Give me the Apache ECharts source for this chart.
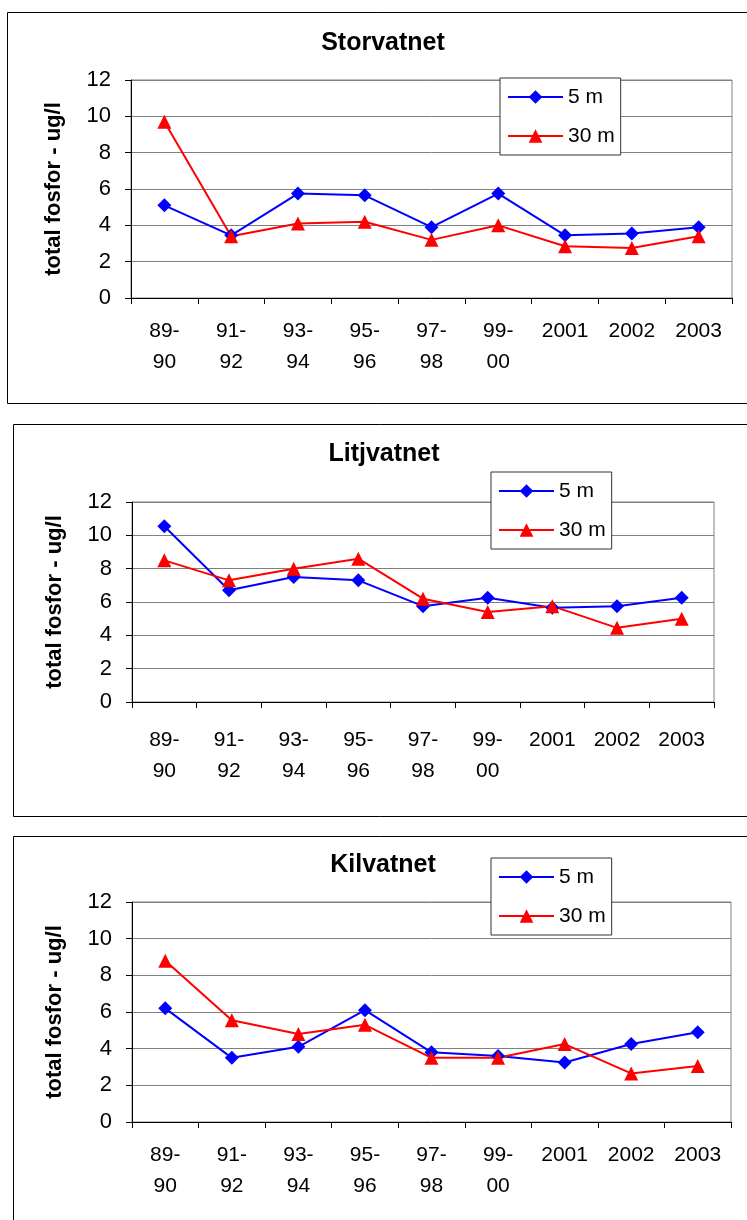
<!DOCTYPE html>
<html>
<head>
<meta charset="utf-8">
<script src="https://cdn.jsdelivr.net/npm/echarts@6/dist/echarts.min.js"></script>
<style>
  html, body { margin: 0; padding: 0; background: #fff; }
  #chart { width: 747px; height: 1220px; }
</style>
</head>
<body>
<div id="chart"></div>
<script>
// periods on the x axis
const categories = ['89-\n90', '91-\n92', '93-\n94', '95-\n96', '97-\n98', '99-\n00', '2001', '2002', '2003'];
const depthNames = ['5 m', '30 m'];
const lakeNames = ['Storvatnet', 'Litjvatnet', 'Kilvatnet'];
const yTitle = 'total fosfor - ug/l';

// total fosfor (ug/l) per lake and depth
const storvatnet5 = [5.1, 3.45, 5.75, 5.65, 3.9, 5.75, 3.45, 3.55, 3.9];
const storvatnet30 = [9.7, 3.4, 4.1, 4.2, 3.2, 4.0, 2.85, 2.75, 3.4];
const litjvatnet5 = [10.55, 6.7, 7.5, 7.3, 5.75, 6.25, 5.65, 5.75, 6.25];
const litjvatnet30 = [8.5, 7.3, 8.0, 8.6, 6.2, 5.4, 5.75, 4.45, 5.0];
const kilvatnet5 = [6.2, 3.5, 4.1, 6.1, 3.8, 3.6, 3.25, 4.25, 4.9];
const kilvatnet30 = [8.8, 5.55, 4.8, 5.3, 3.5, 3.5, 4.25, 2.65, 3.05];

const FONT = '"Liberation Sans", Arial, sans-serif';

// where each panel sits on the page
const panels = [
  { name: lakeNames[0], five: storvatnet5, thirty: storvatnet30,
    frame: [7, 12, 760, 391], grid: { left: 131, top: 80, width: 601, height: 218 },
    title: [383, 31], legend: [500, 78], labelMargin: 18 },
  { name: lakeNames[1], five: litjvatnet5, thirty: litjvatnet30,
    frame: [13, 424, 760, 392], grid: { left: 132, top: 502, width: 582, height: 200 },
    title: [384, 442], legend: [491, 472], labelMargin: 23 },
  { name: lakeNames[2], five: kilvatnet5, thirty: kilvatnet30,
    frame: [13, 836, 760, 400], grid: { left: 132, top: 902, width: 599, height: 220 },
    title: [383, 853], legend: [491, 858], labelMargin: 18 }
];

const chart = echarts.init(document.getElementById('chart'), null, { renderer: 'canvas' });

const title = [], grid = [], xAxis = [], yAxis = [], legend = [], series = [], graphic = [];

panels.forEach((p, i) => {
  graphic.push({
    type: 'rect', z: -10, silent: true,
    shape: { x: p.frame[0] + 0.5, y: p.frame[1] + 0.5, width: p.frame[2], height: p.frame[3] },
    style: { fill: '#fff', stroke: '#000', lineWidth: 1 }
  });
  title.push({
    text: p.name, left: p.title[0], top: p.title[1], textAlign: 'center', padding: 0,
    textStyle: { fontFamily: FONT, fontSize: 25, fontWeight: 'bold', color: '#000' }
  });
  grid.push({
    left: p.grid.left, top: p.grid.top, width: p.grid.width, height: p.grid.height,
    show: true, borderColor: '#808080', borderWidth: 1, backgroundColor: 'transparent'
  });
  xAxis.push({
    type: 'category', gridIndex: i, data: categories, boundaryGap: true,
    axisLine: { lineStyle: { color: '#000', width: 1 } },
    axisTick: { show: true, length: 6, lineStyle: { color: '#000' } },
    axisLabel: { fontFamily: FONT, fontSize: 21, lineHeight: 31, color: '#000',
      margin: p.labelMargin, interval: 0 },
    splitLine: { show: false }
  });
  yAxis.push({
    type: 'value', gridIndex: i, min: 0, max: 12, interval: 2,
    name: yTitle, nameLocation: 'middle', nameRotate: 90, nameGap: 66,
    nameTextStyle: { fontFamily: FONT, fontSize: 22, fontWeight: 'bold', color: '#000' },
    axisLine: { show: true, lineStyle: { color: '#000', width: 1 } },
    axisTick: { show: true, length: 6, lineStyle: { color: '#000' } },
    axisLabel: { fontFamily: FONT, fontSize: 22, color: '#000', margin: 20 },
    splitLine: { show: true, lineStyle: { color: '#808080', width: 1 } }
  });
  legend.push({
    orient: 'vertical', left: p.legend[0], top: p.legend[1],
    data: depthNames, selectedMode: false,
    backgroundColor: '#fff', borderColor: '#333', borderWidth: 1,
    padding: [7, 6, 7, 7], itemGap: 15, itemWidth: 55, itemHeight: 17,
    textStyle: { fontFamily: FONT, fontSize: 21, color: '#000', lineHeight: 24 }
  });
  series.push({
    name: depthNames[0], type: 'line', xAxisIndex: i, yAxisIndex: i,
    data: p.five, symbol: 'diamond', symbolSize: 14,
    itemStyle: { color: '#0000ff' }, lineStyle: { color: '#0000ff', width: 2 }
  });
  series.push({
    name: depthNames[1], type: 'line', xAxisIndex: i, yAxisIndex: i,
    data: p.thirty, symbol: 'triangle', symbolSize: 14,
    itemStyle: { color: '#ff0000' }, lineStyle: { color: '#ff0000', width: 2 }
  });
});

chart.setOption({
  animation: false,
  backgroundColor: '#fff',
  title, grid, xAxis, yAxis, legend, series, graphic
});
</script>
</body>
</html>
